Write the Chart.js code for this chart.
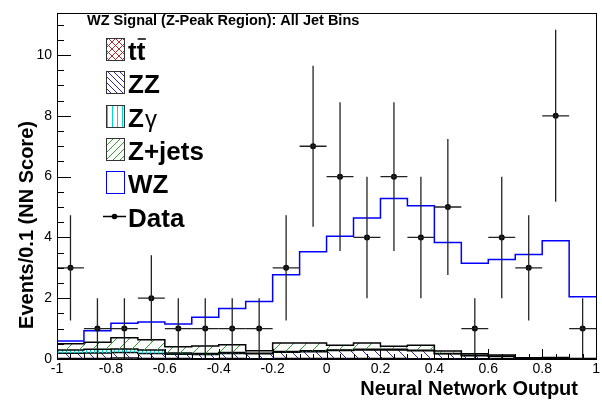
<!DOCTYPE html>
<html>
<head>
<meta charset="utf-8">
<script src="https://cdn.jsdelivr.net/npm/chart.js@4.4.0/dist/chart.umd.min.js"></script>
<style>
  html, body { margin: 0; padding: 0; background: #fff; }
  canvas { display: block; }
</style>
</head>
<body>
<canvas id="nn-chart" width="602" height="402"></canvas>
<script>
// bin edges of the NN output histogram
const binEdges = [-1, -0.9, -0.8, -0.7, -0.6, -0.5, -0.4, -0.3, -0.2, -0.1, 0,
                  0.1, 0.2, 0.3, 0.4, 0.5, 0.6, 0.7, 0.8, 0.9, 1];

// expected events per bin, per process (stack order bottom -> top)
const ttbar  = [0.02, 0.02, 0.03, 0.02, 0.02, 0.01, 0.02, 0.01, 0.02, 0.02, 0.02, 0.02, 0.02, 0.01, 0.01, 0.01, 0.01, 0.00, 0.01, 0.00];
const zz     = [0.17, 0.18, 0.18, 0.16, 0.14, 0.14, 0.16, 0.16, 0.20, 0.22, 0.26, 0.28, 0.28, 0.26, 0.16, 0.10, 0.07, 0.03, 0.03, 0.01];
const zgamma = [0.11, 0.12, 0.12, 0.12, 0.04, 0.03, 0.03, 0.02, 0.03, 0.03, 0.02, 0.02, 0.02, 0.02, 0.01, 0.01, 0.01, 0.00, 0.00, 0.00];
const zjets  = [0.20, 0.23, 0.37, 0.33, 0.20, 0.25, 0.26, 0.08, 0.28, 0.26, 0.15, 0.21, 0.10, 0.16, 0.08, 0.05, 0.04, 0.01, 0.01, 0.01];
const wz     = [0.09, 0.38, 0.48, 0.59, 0.75, 0.94, 1.19, 1.62, 2.24, 3.00, 3.59, 4.11, 4.86, 4.59, 3.57, 2.98, 3.14, 3.40, 3.84, 2.03];

// observed events per bin
const dataCounts = [3, 1, 1, 2, 1, 1, 1, 1, 3, 7, 6, 4, 6, 4, 5, 1, 4, 3, 8, 1];

const yTicks = [0, 2, 4, 6, 8, 10];
const xTicks = [-1, -0.8, -0.6, -0.4, -0.2, 0, 0.2, 0.4, 0.6, 0.8, 1];

const FONT = '"Liberation Sans", Arial, Helvetica, sans-serif';

// hatch patterns like ROOT fill styles
function makeHatch(kind, color, size) {
  const c = document.createElement("canvas");
  c.width = size; c.height = size;
  const g = c.getContext("2d");
  g.strokeStyle = color;
  g.lineWidth = 1;
  g.beginPath();
  if (kind === "back" || kind === "cross") {
    for (const k of [-size, 0, size]) { g.moveTo(0, k); g.lineTo(size, size + k); }
  }
  if (kind === "fwd" || kind === "cross") {
    for (const k of [0, size, 2 * size]) { g.moveTo(0, k); g.lineTo(size, k - size); }
  }
  if (kind === "vert") {
    const x = Math.floor(size / 2) + 0.5;
    g.moveTo(x, 0); g.lineTo(x, size);
  }
  g.stroke();
  return g.createPattern(c, "repeat");
}

const procs = [
  { name: "ttbar",  vals: ttbar,  color: "#b03030", hatch: "cross", size: 10, legSize: 7 },
  { name: "ZZ",     vals: zz,     color: "#2828b0", hatch: "back",  size: 12, legSize: 6 },
  { name: "Zgamma", vals: zgamma, color: "#00d8d8", hatch: "vert",  size: 4,  legSize: 5 },
  { name: "Z+jets", vals: zjets,  color: "#30a030", hatch: "fwd",   size: 13, legSize: 7 },
];

// cumulative stack
let running = new Array(binEdges.length - 1).fill(0);
const stacked = [...procs.map(p => p.vals), wz].map(vals => {
  running = running.map((v, i) => v + vals[i]);
  return running;
});

// one point per left bin edge, plus the right edge of the last bin
function stepPoints(vals) {
  const pts = vals.map((v, i) => ({ x: binEdges[i], y: v }));
  pts.push({ x: binEdges[vals.length], y: vals[vals.length - 1] });
  return pts;
}

const datasets = procs.map((p, i) => ({
  label: p.name,
  data: stepPoints(stacked[i]),
  stepped: "before",
  fill: i === 0 ? "origin" : "-1",
  backgroundColor: makeHatch(p.hatch, p.color, p.size),
  borderColor: "#000",
  borderWidth: 1.5,
  pointRadius: 0,
  order: 5 - i,
}));

datasets.push({
  label: "WZ",
  data: stepPoints(stacked[4]),
  stepped: "before",
  fill: false,
  borderColor: "#0000ff",
  borderWidth: 1.5,
  pointRadius: 0,
  order: 1,
});

datasets.push({
  label: "Data",
  data: dataCounts.map((n, i) => ({ x: (binEdges[i] + binEdges[i + 1]) / 2, y: n })),
  showLine: false,
  pointRadius: 3,
  pointBackgroundColor: "#000",
  pointBorderWidth: 0,
  order: 0,
});

// error bars, inner ticks, frame, titles and legend
const rootStyle = {
  id: "rootStyle",
  afterDatasetsDraw(chart) {
    const { ctx, chartArea: a, scales: { x, y } } = chart;
    ctx.save();
    ctx.beginPath();
    ctx.rect(a.left, a.top, a.right - a.left, a.bottom - a.top);
    ctx.clip();
    ctx.strokeStyle = "#222";
    ctx.lineWidth = 1.3;
    dataCounts.forEach((n, i) => {
      const xc = x.getPixelForValue((binEdges[i] + binEdges[i + 1]) / 2);
      const yc = y.getPixelForValue(n);
      const err = Math.sqrt(n);
      ctx.beginPath();
      ctx.moveTo(x.getPixelForValue(binEdges[i]), yc);
      ctx.lineTo(x.getPixelForValue(binEdges[i + 1]), yc);
      ctx.moveTo(xc, y.getPixelForValue(n + err));
      ctx.lineTo(xc, y.getPixelForValue(Math.max(0, n - err)));
      ctx.stroke();
    });
    ctx.restore();
  },
  afterDraw(chart) {
    const { ctx, chartArea: a, scales: { x, y } } = chart;
    ctx.save();
    ctx.strokeStyle = "#000";
    ctx.lineWidth = 1;
    ctx.strokeRect(Math.round(a.left) + 0.5, Math.round(a.top) + 0.5,
                   Math.round(a.right - a.left), Math.round(a.bottom - a.top));

    // ticks pointing into the frame
    ctx.beginPath();
    for (let v = 0; v <= y.max + 1e-9; v += 0.5) {
      const py = Math.round(y.getPixelForValue(v)) + 0.5;
      const len = yTicks.includes(v) ? 14 : 7;
      ctx.moveTo(a.left, py); ctx.lineTo(a.left + len, py);
    }
    for (let k = 0; k <= 40; k++) {
      const v = -1 + k * 0.05;
      const px = Math.round(x.getPixelForValue(v)) + 0.5;
      const len = k % 4 === 0 ? 10 : 5;
      ctx.moveTo(px, a.bottom); ctx.lineTo(px, a.bottom - len);
    }
    ctx.stroke();

    // titles
    ctx.fillStyle = "#000";
    ctx.font = "bold 14.5px " + FONT;
    ctx.textBaseline = "alphabetic";
    ctx.textAlign = "left";
    ctx.fillText("WZ Signal (Z-Peak Region): All Jet Bins", 87, 25);

    ctx.font = "bold 20px " + FONT;
    ctx.textAlign = "right";
    ctx.fillText("Neural Network Output", 578, 395);

    ctx.save();
    ctx.translate(33, 225);
    ctx.rotate(-Math.PI / 2);
    ctx.textAlign = "center";
    ctx.fillText("Events/0.1 (NN Score)", 0, 0);
    ctx.restore();

    // legend
    const bx = 106, bw = 18, bh = 22, tx = 128;
    const rowTop = i => 38 + i * 33.3;
    procs.forEach((p, i) => {
      const top = Math.round(rowTop(i));
      ctx.fillStyle = "#fff";
      ctx.fillRect(bx, top, bw, bh);
      ctx.fillStyle = makeHatch(p.hatch, p.color, p.legSize);
      ctx.fillRect(bx, top, bw, bh);
      ctx.strokeStyle = "#333";
      ctx.lineWidth = 1;
      ctx.strokeRect(bx + 0.5, top + 0.5, bw, bh);
    });
    {
      const top = Math.round(rowTop(4));
      ctx.strokeStyle = "#0000ff";
      ctx.strokeRect(bx + 0.5, top + 0.5, bw, bh);
    }
    ctx.fillStyle = "#000";
    ctx.textAlign = "left";
    ctx.font = "bold 26px " + FONT;
    const base = i => Math.round(rowTop(i)) + 22;
    // t tbar
    ctx.fillText("tt", tx, base(0));
    const tW = ctx.measureText("t").width;
    ctx.lineWidth = 1.5;
    ctx.strokeStyle = "#000";
    ctx.beginPath();
    ctx.moveTo(tx + tW + 1, base(0) - 21);
    ctx.lineTo(tx + 2 * tW + 0.5, base(0) - 21);
    ctx.stroke();
    ctx.fillText("ZZ", tx, base(1));
    ctx.fillText("Z", tx, base(2));
    const zW = ctx.measureText("Z").width;
    ctx.font = "24px " + FONT;
    ctx.fillText("\u03b3", tx + zW + 1, base(2));
    ctx.font = "bold 26px " + FONT;
    ctx.fillText("Z+jets", tx, base(3));
    ctx.fillText("WZ", tx, base(4));
    ctx.fillText("Data", tx, base(5));
    const dy = Math.round(rowTop(5)) + 11;
    ctx.beginPath();
    ctx.moveTo(103, dy + 0.5); ctx.lineTo(126, dy + 0.5);
    ctx.stroke();
    ctx.beginPath();
    ctx.arc(114.5, dy + 0.5, 2.8, 0, Math.PI * 2);
    ctx.fill();
    ctx.restore();
  },
};

new Chart(document.getElementById("nn-chart"), {
  type: "line",
  data: { datasets },
  options: {
    responsive: false,
    animation: false,
    devicePixelRatio: 1,
    layout: { padding: { top: 5, right: 4, left: 0, bottom: 0 } },
    elements: { line: { tension: 0 } },
    plugins: { legend: { display: false }, tooltip: { enabled: false } },
    scales: {
      x: {
        type: "linear",
        min: -1,
        max: 1,
        afterFit: s => { s.height = 43; },
        afterBuildTicks: s => { s.ticks = xTicks.map(v => ({ value: v })); },
        grid: { display: false, drawTicks: false },
        border: { display: false },
        ticks: {
          autoSkip: false,
          maxRotation: 0,
          padding: 2,
          color: "#000",
          font: { family: FONT, size: 14 },
          callback: v => String(Math.round(v * 10) / 10),
        },
      },
      y: {
        min: 0,
        max: 11.37,
        afterFit: s => { s.width = 57; },
        afterBuildTicks: s => { s.ticks = yTicks.map(v => ({ value: v })); },
        grid: { display: false, drawTicks: false },
        border: { display: false },
        ticks: {
          padding: 5,
          color: "#000",
          font: { family: FONT, size: 14 },
          callback: v => String(v),
        },
      },
    },
  },
  plugins: [rootStyle],
});
</script>
</body>
</html>
